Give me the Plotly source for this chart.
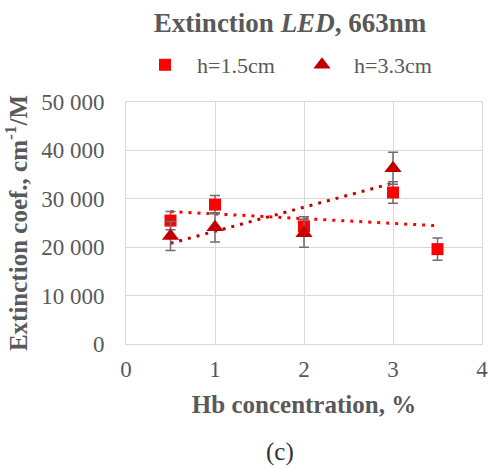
import numpy as np
import plotly.graph_objects as go

x_sq = [0.5, 1, 2, 3, 3.5]
y_sq = [25500, 28800, 24300, 31300, 19600]
e_sq = [1900, 1900, 2000, 2200, 2300]

x_tr = [0.5, 1, 2, 3]
y_tr = [22300, 24100, 22900, 36300]
e_tr = [3000, 3000, 2900, 3300]

x_ticks = [0, 1, 2, 3, 4]
y_ticks = [0, 10000, 20000, 30000, 40000, 50000]

FONT = "Liberation Serif"
GRAY = "#595959"

L, R, T, B = 126, 482, 102, 344
W, H = 488, 469

fig = go.Figure()

def trend(xs, ys):
    k, b = np.polyfit(xs, ys, 1)
    xx = np.array([min(xs), max(xs)])
    return xx, k * xx + b

tx, ty = trend(x_sq, y_sq)
fig.add_trace(go.Scatter(x=tx, y=ty, mode="lines", showlegend=False,
                         line=dict(color="#FF0000", width=3, dash="3px,6px")))
tx, ty = trend(x_tr, y_tr)
fig.add_trace(go.Scatter(x=tx, y=ty, mode="lines", showlegend=False,
                         line=dict(color="#C00000", width=3, dash="3px,6px")))

fig.add_trace(go.Scatter(x=x_sq, y=y_sq, mode="markers", name="h=1.5cm",
                         marker=dict(symbol="square", size=12, color="#FF0000"),
                         error_y=dict(type="data", array=e_sq, color="#6E6E6E", thickness=1.5, width=5)))
fig.add_trace(go.Scatter(x=x_tr, y=y_tr, mode="markers", name="h=3.3cm",
                         marker=dict(symbol="triangle-up", size=15, color="#C00000"),
                         error_y=dict(type="data", array=e_tr, color="#6E6E6E", thickness=1.5, width=5)))

fig.update_layout(
    width=W, height=H,
    margin=dict(l=L, r=W - R, t=T, b=H - B, autoexpand=False),
    paper_bgcolor="white", plot_bgcolor="white",
    separators=". ",
    font=dict(family=FONT, color=GRAY, size=18),
    title=dict(text="<b>Extinction <i>LED</i>, 663nm</b>", x=290 / W, xanchor="center",
               y=1 - 23 / H, yanchor="middle", xref="container", yref="container",
               font=dict(family=FONT, size=27, color=GRAY)),
    legend=dict(orientation="h", x=290 / W, xanchor="center", xref="container",
                y=1 - 65 / H, yanchor="middle", yref="container",
                font=dict(family=FONT, size=22, color=GRAY), itemwidth=54,
                entrywidth=88, entrywidthmode="pixels",
                tracegroupgap=0),
    xaxis=dict(range=[0, 4], tickvals=x_ticks, showgrid=True, gridcolor="#D9D9D9",
               showline=True, linecolor="#D9D9D9", mirror=True, zeroline=False,
               tickfont=dict(size=23, color=GRAY), ticks="", ticklabelstandoff=4,
               ticklabeloverflow="allow", automargin=False,
               title=dict(text="<b>Hb concentration, %</b>", font=dict(size=25, color=GRAY), standoff=14)),
    yaxis=dict(range=[0, 50000], tickvals=y_ticks, tickformat=",d", showgrid=True, gridcolor="#D9D9D9",
               showline=True, linecolor="#D9D9D9", mirror=True, zeroline=False,
               tickfont=dict(size=23, color=GRAY), ticks="outside", ticklen=16,
               tickcolor="rgba(0,0,0,0)", ticklabeloverflow="allow", automargin=False,
               title=dict(text="<b>Extinction coef., cm<sup>-1</sup>/M</b>", font=dict(size=25, color=GRAY), standoff=8)),
)

fig.add_annotation(text="(c)", x=(280 - L) / (R - L), y=(B - 452) / (B - T), xref="paper", yref="paper",
                   showarrow=False, yanchor="middle", xanchor="center",
                   font=dict(family=FONT, size=25, color="#333333"))

fig.write_html("out.html")
